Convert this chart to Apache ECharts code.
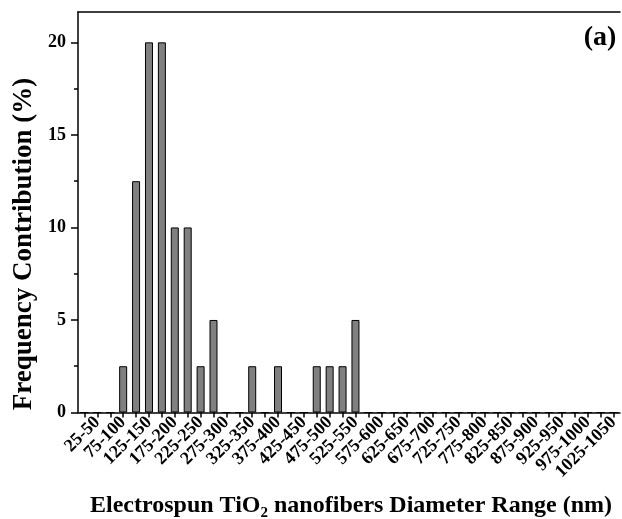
<!DOCTYPE html>
<html>
<head>
<meta charset="utf-8">
<script src="https://cdn.jsdelivr.net/npm/echarts@6/dist/echarts.min.js"></script>
<style>
html,body{margin:0;padding:0;background:#fff;}
#chart{width:622px;height:519px;}
</style>
</head>
<body>
<div id="chart"></div>
<script>
var categories = ['0-25','25-50','50-75','75-100','100-125','125-150','150-175','175-200','200-225','225-250',
  '250-275','275-300','300-325','325-350','350-375','375-400','400-425','425-450','450-475','475-500',
  '500-525','525-550','550-575','575-600','600-625','625-650','650-675','675-700','700-725','725-750',
  '750-775','775-800','800-825','825-850','850-875','875-900','900-925','925-950','950-975','975-1000',
  '1000-1025','1025-1050'];
var frequency = [0,0,0,2.5,12.5,20,20,10,10,2.5,
  5,0,0,2.5,0,2.5,0,0,2.5,2.5,
  2.5,5,0,0,0,0,0,0,0,0,
  0,0,0,0,0,0,0,0,0,0,
  0,0];
var yMajorTicks = [0,5,10,15,20];
var yMinorTicks = [2.5,7.5,12.5,17.5];
var yMax = 21.64;

var FONT = "'Liberation Serif','Times New Roman',serif";
var chart = echarts.init(document.getElementById('chart'));
chart.setOption({
  animation: false,
  backgroundColor: '#fff',
  grid: {left: 78, top: 12, width: 545, height: 400.5, containLabel: false},
  xAxis: [{
    type: 'category',
    data: categories,
    boundaryGap: true,
    axisLine: {show: true, onZero: false, lineStyle: {color: '#000', width: 1.5}},
    axisTick: {show: true, alignWithLabel: true, interval: 0, inside: false, length: 5, lineStyle: {color: '#000', width: 1.5}},
    axisLabel: {
      interval: function (i) { return i % 2 === 1; },
      rotate: 45, margin: 7,
      fontFamily: FONT, fontWeight: 'bold', fontSize: 18, color: '#000'
    },
    splitLine: {show: false}
  }, {
    type: 'category',
    data: categories,
    position: 'top',
    axisLine: {show: true, onZero: false, lineStyle: {color: '#000', width: 1.5}},
    axisTick: {show: false},
    axisLabel: {show: false},
    splitLine: {show: false}
  }],
  yAxis: [{
    type: 'value',
    min: 0, max: yMax,
    axisLine: {show: true, onZero: false, lineStyle: {color: '#000', width: 1.5}},
    axisTick: {show: true, customValues: yMajorTicks, length: 7, lineStyle: {color: '#000', width: 1.5}},
    axisLabel: {customValues: yMajorTicks, margin: 12, fontFamily: FONT, fontWeight: 'bold', fontSize: 18, color: '#000'},
    splitLine: {show: false}
  }, {
    type: 'value',
    position: 'left',
    min: 0, max: yMax,
    axisLine: {show: false},
    axisTick: {show: true, customValues: yMinorTicks, length: 4, lineStyle: {color: '#000', width: 1.5}},
    axisLabel: {show: false},
    splitLine: {show: false}
  }],
  series: [{
    type: 'bar',
    xAxisIndex: 0,
    yAxisIndex: 0,
    data: frequency,
    barWidth: 8,
    itemStyle: {color: '#808080', borderColor: '#000', borderWidth: 1}
  }],
  graphic: [{
    type: 'text',
    x: 24, y: 244,
    rotation: Math.PI / 2,
    style: {
      text: 'Frequency Contribution (%)',
      font: "bold 27px 'Liberation Serif', serif",
      fill: '#000', align: 'center', verticalAlign: 'middle'
    }
  }, {
    type: 'text',
    x: 351, y: 506,
    style: {
      text: 'Electrospun TiO{sub|2} nanofibers Diameter Range (nm)',
      font: "bold 24px 'Liberation Serif', serif",
      fill: '#000', align: 'center', verticalAlign: 'middle',
      rich: {
        sub: {font: "bold 15px 'Liberation Serif', serif", fill: '#000', padding: [14, 0, 0, 0]}
      }
    }
  }, {
    type: 'text',
    x: 600, y: 38,
    style: {
      text: '(a)',
      font: "bold 28px 'Liberation Serif', serif",
      fill: '#000', align: 'center', verticalAlign: 'middle'
    }
  }]
});
</script>
</body>
</html>
